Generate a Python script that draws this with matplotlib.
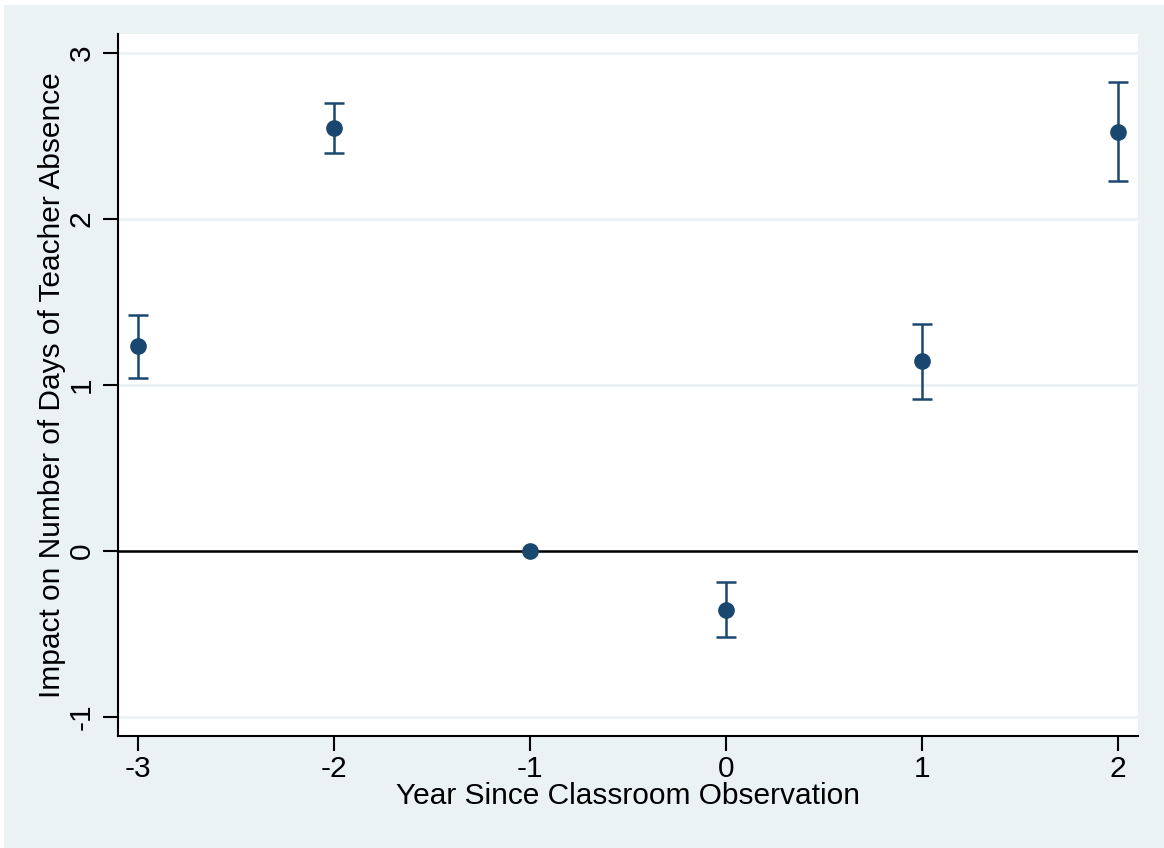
import matplotlib.pyplot as plt
from matplotlib.patches import Rectangle

# event-study estimates
years = [-3, -2, -1, 0, 1, 2]
coef = [1.235, 2.548, 0.0, -0.355, 1.145, 2.526]
ci_low = [1.04, 2.40, 0.0, -0.518, 0.916, 2.231]
ci_high = [1.42, 2.70, 0.0, -0.187, 1.367, 2.823]
yticks = [-1, 0, 1, 2, 3]

navy = '#1A476F'
bg = '#EAF2F3'

plt.rcParams['font.family'] = ['Liberation Sans', 'DejaVu Sans']

fig = plt.figure(figsize=(11.64, 8.48), dpi=100, facecolor='white')
# stata-style background panel (white strip at top and left)
fig.patches.append(Rectangle((4 / 1164, 0), 1, 843 / 848, transform=fig.transFigure,
                             facecolor=bg, edgecolor='none', zorder=-10))
ax = fig.add_axes([118 / 1164, 1 - 736 / 848, 1020 / 1164, 702 / 848])
ax.set_facecolor('white')

for y in yticks:
    ax.axhline(y, color=bg, lw=2, zorder=0)
ax.axhline(0, color='black', lw=1.8, zorder=1)

# CIs only where the interval is non-degenerate
ex = [x for x, lo, hi in zip(years, ci_low, ci_high) if hi > lo]
ey = [c for c, lo, hi in zip(coef, ci_low, ci_high) if hi > lo]
elo = [c - lo for c, lo, hi in zip(coef, ci_low, ci_high) if hi > lo]
ehi = [hi - c for c, lo, hi in zip(coef, ci_low, ci_high) if hi > lo]
ax.errorbar(ex, ey, yerr=[elo, ehi], fmt='none', ecolor=navy, elinewidth=1.8,
            capsize=7.5, capthick=1.8, zorder=2)
ax.plot(years, coef, 'o', color=navy, markersize=11, zorder=3)

ax.set_xlim(-3.102, 2.102)
ax.set_ylim(-1.114, 3.114)
ax.set_xticks(years)
ax.set_xticklabels([str(y) for y in years])
ax.set_yticks(yticks)
ax.set_yticklabels([str(y) for y in yticks], rotation=90, va='center')

for s in ['top', 'right']:
    ax.spines[s].set_visible(False)
for s in ['left', 'bottom']:
    ax.spines[s].set_linewidth(1.5)
ax.tick_params(axis='x', length=11, width=1.5, labelsize=21.5, pad=3)
ax.tick_params(axis='y', length=11, width=1.5, labelsize=21.5, pad=5)

ax.set_xlabel('Year Since Classroom Observation', fontsize=21.5, labelpad=-1)
ax.set_ylabel('Impact on Number of Days of Teacher Absence', fontsize=21.5, labelpad=1)

fig.savefig('out.png', dpi=100, facecolor=fig.get_facecolor())
